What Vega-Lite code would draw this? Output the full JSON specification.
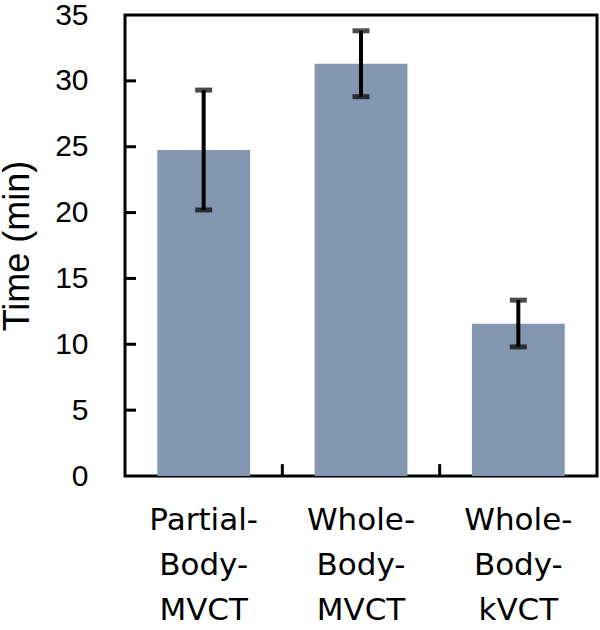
{
  "$schema": "https://vega.github.io/schema/vega-lite/v6.json",
  "width": 472,
  "height": 461,
  "autosize": {"type": "none"},
  "padding": {"left": 125, "top": 15, "right": 3, "bottom": 154},
  "background": "white",
  "config": {
    "view": {"stroke": "black", "strokeWidth": 3},
    "axis": {"grid": false, "labelColor": "black", "titleColor": "black"}
  },
  "data": {
    "values": [
      {"method": "Partial-Body-MVCT", "time": 24.75, "low": 20.2, "high": 29.3},
      {"method": "Whole-Body-MVCT", "time": 31.3, "low": 28.8, "high": 33.8},
      {"method": "Whole-Body-kVCT", "time": 11.55, "low": 9.8, "high": 13.35}
    ]
  },
  "resolve": {"scale": {"x": "independent"}},
  "layer": [
    {
      "mark": {"type": "bar", "color": "#8497B0"},
      "encoding": {
        "x": {
          "field": "method",
          "type": "nominal",
          "sort": null,
          "scale": {"paddingInner": 0.41, "paddingOuter": 0.205},
          "axis": {
            "title": null,
            "labelAngle": 0,
            "labelFont": "DejaVu Sans",
            "labelFontSize": 31,
            "labelLineHeight": 45,
            "labelPadding": 29,
            "domain": false,
            "ticks": false,
            "labelExpr": "[split(datum.label,'-')[0] + '-', split(datum.label,'-')[1] + '-', split(datum.label,'-')[2]]"
          }
        },
        "y": {
          "field": "time",
          "type": "quantitative",
          "scale": {"domain": [0, 35], "nice": false},
          "axis": {
            "title": "Time (min)",
            "titleFont": "Liberation Sans",
            "titleFontSize": 36,
            "titleFontWeight": "normal",
            "titlePadding": 18,
            "labelFont": "Liberation Sans",
            "labelFontSize": 30,
            "labelPadding": 37,
            "domain": false,
            "ticks": false,
            "values": [0, 5, 10, 15, 20, 25, 30, 35]
          }
        }
      }
    },
    {
      "mark": {"type": "rule", "color": "black", "strokeWidth": 4},
      "encoding": {
        "x": {"field": "method", "type": "nominal", "sort": null, "axis": null, "scale": {"paddingInner": 0.41, "paddingOuter": 0.205}},
        "y": {"field": "low", "type": "quantitative"},
        "y2": {"field": "high"}
      }
    },
    {
      "mark": {"type": "tick", "color": "black", "size": 17, "thickness": 5},
      "encoding": {
        "x": {"field": "method", "type": "nominal", "sort": null, "axis": null, "scale": {"paddingInner": 0.41, "paddingOuter": 0.205}},
        "y": {"field": "low", "type": "quantitative"}
      }
    },
    {
      "mark": {"type": "tick", "color": "black", "size": 17, "thickness": 5},
      "encoding": {
        "x": {"field": "method", "type": "nominal", "sort": null, "axis": null, "scale": {"paddingInner": 0.41, "paddingOuter": 0.205}},
        "y": {"field": "high", "type": "quantitative"}
      }
    },
    {
      "data": {"values": [{"tick": 5}, {"tick": 10}, {"tick": 15}, {"tick": 20}, {"tick": 25}, {"tick": 30}]},
      "mark": {"type": "rule", "color": "black", "strokeWidth": 3},
      "encoding": {
        "y": {"field": "tick", "type": "quantitative"},
        "x": {"value": 0},
        "x2": {"value": 11}
      }
    },
    {
      "data": {"values": [{"boundary": 1}, {"boundary": 2}]},
      "mark": {"type": "rule", "color": "black", "strokeWidth": 3},
      "encoding": {
        "x": {"field": "boundary", "type": "quantitative", "scale": {"domain": [0, 3], "nice": false, "zero": false}, "axis": null},
        "y": {"datum": 0},
        "y2": {"datum": 0.9}
      }
    }
  ]
}
